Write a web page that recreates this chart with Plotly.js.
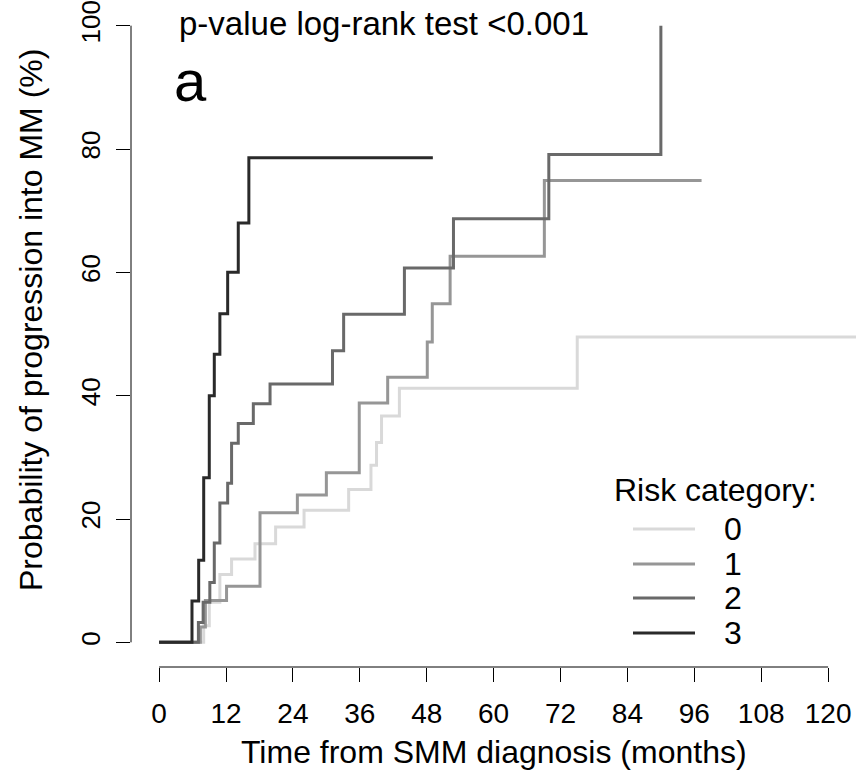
<!DOCTYPE html>
<html>
<head>
<meta charset="utf-8">
<script src="https://cdn.plot.ly/plotly-3.0.1.min.js"></script>
<style>html,body{margin:0;padding:0;background:#fff;}#chart{width:856px;height:778px;}</style>
</head>
<body>
<div id="chart"></div>
<script>
// Risk categories
var categories = ["0", "1", "2", "3"];
var colors = ["#d9d9d9", "#969696", "#696969", "#2a2a2a"];

// Kaplan-Meier step data (months, % progressed)
var time0 = [0, 8.0, 9.0, 10.9, 13.0, 17.2, 20.9, 26.0, 34.0, 38.0, 39.0, 39.9, 43.1, 75.0, 126];
var prob0 = [0, 2.7, 6.5, 11.0, 13.5, 16.0, 18.7, 21.4, 24.8, 28.7, 32.4, 36.7, 41.2, 49.5, 49.5];

var time1 = [0, 7.4, 8.3, 12.1, 18.1, 24.8, 30.0, 35.9, 41.0, 48.1, 49.0, 52.2, 69.1, 97.3];
var prob1 = [0, 2.5, 6.8, 9.1, 21.0, 23.9, 27.5, 38.8, 43.0, 48.7, 54.9, 62.6, 74.9, 74.9];

var time2 = [0, 7.05, 7.9, 9.1, 9.9, 10.9, 12.3, 13.0, 14.2, 16.9, 19.9, 31.1, 33.1, 44.0, 52.8, 69.9, 90.0];
var prob2 = [0, 3.2, 6.5, 9.7, 16.1, 22.6, 25.8, 32.3, 35.5, 38.7, 41.9, 47.3, 53.2, 60.7, 68.7, 79.1, 100];

var time3 = [0, 5.9, 7.1, 8.0, 9.0, 9.9, 10.9, 12.3, 14.2, 16.1, 49.1];
var prob3 = [0, 6.7, 13.3, 26.7, 40.0, 46.7, 53.3, 60.0, 68.0, 78.6, 78.6];

var xTicks = [0, 12, 24, 36, 48, 60, 72, 84, 96, 108, 120];
var yTicks = [0, 20, 40, 60, 80, 100];

var times = [time0, time1, time2, time3];
var probs = [prob0, prob1, prob2, prob3];

var FONT = "Liberation Sans, Arial, Helvetica, sans-serif";

var traces = categories.map(function (c, i) {
  return {
    x: times[i], y: probs[i], type: "scatter", mode: "lines",
    line: {shape: "hv", color: colors[i], width: 3},
    name: c, showlegend: false, hoverinfo: "skip"
  };
});

var L = 131, W = 725, T = 1, H = 666;
function px(x) { return (x - L) / W; }
function py(y) { return (T + H - y) / H; }

var shapes = [
  {type: "line", xref: "x", yref: "paper", x0: xTicks[0], x1: xTicks[xTicks.length - 1], y0: 0, y1: 0, line: {color: "#000", width: 1}},
  {type: "line", xref: "paper", yref: "y", x0: 0, x1: 0, y0: yTicks[0], y1: yTicks[yTicks.length - 1], line: {color: "#000", width: 1}}
];
var legendY = [529, 564, 598, 633];
var annotations = [
  {xref: "paper", yref: "paper", x: px(177), y: py(23), xanchor: "left", yanchor: "middle", showarrow: false,
   text: "p-value log-rank test <0.001", font: {family: FONT, size: 33, color: "#000"}},
  {xref: "paper", yref: "paper", x: px(190), y: py(80), xanchor: "center", yanchor: "middle", showarrow: false,
   text: "a", font: {family: FONT, size: 58, color: "#000"}},
  {xref: "paper", yref: "paper", x: px(612), y: py(490), xanchor: "left", yanchor: "middle", showarrow: false,
   text: "Risk category:", font: {family: FONT, size: 32, color: "#000"}},
  {xref: "paper", yref: "paper", x: px(31), y: py(320), xanchor: "center", yanchor: "middle", showarrow: false,
   textangle: -90, text: "Probability of progression into MM (%)", font: {family: FONT, size: 32, color: "#000"}},
  {xref: "paper", yref: "paper", x: px(494), y: py(752), xanchor: "center", yanchor: "middle", showarrow: false,
   text: "Time from SMM diagnosis (months)", font: {family: FONT, size: 32, color: "#000"}}
];
categories.forEach(function (c, i) {
  shapes.push({type: "line", xref: "paper", yref: "paper", x0: px(633), x1: px(695), y0: py(legendY[i]), y1: py(legendY[i]),
    line: {color: colors[i], width: 3}});
  annotations.push({xref: "paper", yref: "paper", x: px(733), y: py(legendY[i]), xanchor: "center", yanchor: "middle",
    showarrow: false, text: c, font: {family: FONT, size: 32, color: "#000"}});
});

var layout = {
  width: 856, height: 778,
  margin: {l: L, r: 0, t: T, b: 778 - H - T, pad: 0},
  paper_bgcolor: "#fff", plot_bgcolor: "#fff",
  font: {family: FONT, size: 32, color: "#000"},
  showlegend: false,
  xaxis: {
    range: [-5.04, 125.0], tickvals: xTicks, ticktext: xTicks.map(String),
    ticks: "outside", ticklen: 14, tickwidth: 1, tickcolor: "#000",
    ticklabelstandoff: 7, ticklabeloverflow: "allow",
    showgrid: false, zeroline: false, showline: false,
    tickfont: {family: FONT, size: 28, color: "#000"}
  },
  yaxis: {
    range: [-4, 104], tickvals: yTicks, ticktext: yTicks.map(String),
    ticks: "outside", ticklen: 14, tickwidth: 1, tickcolor: "#000",
    tickangle: -90, ticklabelstandoff: 6, ticklabeloverflow: "allow",
    showgrid: false, zeroline: false, showline: false,
    tickfont: {family: FONT, size: 26, color: "#000"}
  },
  shapes: shapes,
  annotations: annotations
};

Plotly.newPlot("chart", traces, layout, {displayModeBar: false, staticPlot: true});
</script>
</body>
</html>
